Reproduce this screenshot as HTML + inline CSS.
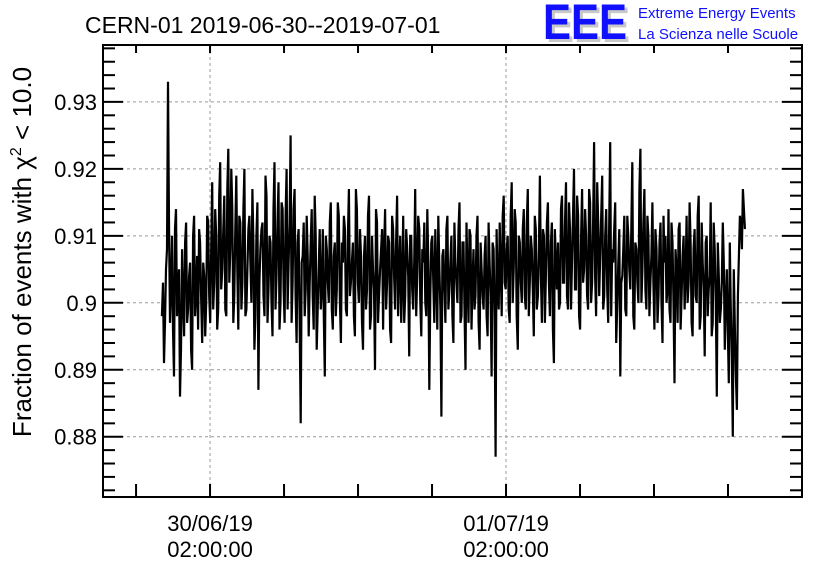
<!DOCTYPE html>
<html><head><meta charset="utf-8"><style>
body{margin:0;background:#fff;}
svg{display:block;font-family:"Liberation Sans",sans-serif;}
</style></head><body>
<svg id="c" width="836" height="572" viewBox="0 0 836 572">
<text x="85" y="33" font-size="23">CERN-01 2019-06-30--2019-07-01</text>
<g>
<text x="546" y="42" font-size="50" fill="#c8c8c8" font-weight="bold" textLength="84" lengthAdjust="spacingAndGlyphs">EEE</text>
<text x="543" y="39" font-size="50" fill="#1010ff" font-weight="bold" textLength="84" lengthAdjust="spacingAndGlyphs">EEE</text>
<text x="638" y="18" font-size="15" fill="#1010ff">Extreme Energy Events</text>
<text x="638" y="39" font-size="15" fill="#1010ff">La Scienza nelle Scuole</text>
</g>
<text transform="translate(31,252) rotate(-90)" text-anchor="middle" font-size="26">Fraction of events with χ<tspan dy="-10" font-size="16">2</tspan><tspan dy="10"> &lt; 10.0</tspan></text>
<g id="grid"></g><g id="ticks"></g><g id="series"></g>
<rect x="103" y="45" width="699" height="452" fill="none" stroke="#000" stroke-width="2"/>
</svg>
<script>
const yTicks=[0.88,0.89,0.90,0.91,0.92,0.93];
const yTickLabels=["0.88","0.89","0.9","0.91","0.92","0.93"];
const xLabelHours=[2,26];
const xLabelDates=["30/06/19","01/07/19"];
const xLabelTimes=["02:00:00","02:00:00"];
const startHour=-1.9, stepHour=0.0815;
const fracMilliA=[
898,891,905,933,897,910,889,914,902,886,
908,895,912,899,906,890,913,901,896,909,
894,904,900,912,897,918,903,910,899,921,
905,916,898,923,908,914,901,919,896,912,
903,920,899,911,906,917,893,910,887,908,
912,898,916,902,909,895,921,904,918,900,
914,897,920,906,925,903,917,894,911,882,
907,898,913,895,909,901,916,893,905,899,
911,889,908,900,915,896,909,902,913,894,
906,911,898,917,903,909,895,914,900,907,
893,910,902,916,898,905,890,912,901,908,
896,914,903,909,894,911,899,916,905,897,
913,901,908,892,910,899,917,904,911,895,
906,900,914,887,909,903,911,896,905,883,
908,897,913,902,910,894,906,900,915,898,
909,890,904,911,896,908,901,913,893,905,
899,910,895,906,889,908,877,903,912,898,
916,902,910,897,918,905,912,893,909,900,
914,899,917,903,908,895,911,901,919,897,
910,904,915,898,912,891,906,909,900,916,
903,918,899,911,906,920,902,913,896,917,
905,910,899,915,903,924,898,912,907,919,
901,914,897,924,908,911,894,906,889,904,
913,898,910,902,921,896,908,900,923,905,
917,899,910,903,915,896,908,901,912,894,
906,900,914,897,909,888,905,911,896,907,
899,913,903,909,895,911,900,916,898,906,
892,910,902,915,897,908,886,904,899,912,
893,905,888,899,880,896,884,907,912,917,911];
const fracMilliB=[
903,897,908,912,902,896,911,898,905,893,
900,909,897,904,893,910,898,907,911,901,
906,895,913,901,908,899,914,896,916,902,
911,899,917,903,920,897,911,905,913,899,
914,898,905,913,900,909,898,915,903,911,
901,919,897,910,900,914,899,912,896,915,
902,913,899,912,897,914,901,909,898,906,
912,902,907,903,914,896,910,899,911,902,
898,910,903,912,899,907,898,915,901,909,
913,899,910,901,906,898,917,903,911,897,
907,899,913,896,910,902,914,897,905,911,
908,899,910,896,913,904,909,898,910,903,
897,911,904,910,902,906,898,913,900,908,
912,898,906,901,910,897,904,913,899,907,
902,911,899,906,898,912,903,911,897,909,
899,912,897,910,903,899,910,897,909,901,
907,898,912,901,909,898,911,899,905,913,
903,908,899,913,900,914,898,910,903,911,
901,912,898,910,902,913,899,908,904,911,
897,912,903,909,896,911,902,899,914,903,
912,901,915,899,913,902,916,898,910,903,
914,901,917,900,912,904,918,901,913,899,
910,902,912,898,906,915,900,911,903,908,
899,913,905,911,898,909,903,917,900,912,
902,913,898,907,903,911,897,909,900,913,
910,902,899,912,900,908,897,912,901,910,
904,900,915,897,908,901,913,896,912,902,
909,898,904,895,912,900,909,897,903,906,
900,896,909,892,905,889,901,913,908,914];
const X0=103,X1=802,Y0=45,Y1=497;
const hMin=-6.68, hMax=50.0, vMin=0.8710, vMax=0.9385;
const xs=h=>X0+(h-hMin)/(hMax-hMin)*(X1-X0);
const ys=v=>Y1-(v-vMin)/(vMax-vMin)*(Y1-Y0);
const NS="http://www.w3.org/2000/svg";
function mk(tag,attrs,parent){const e=document.createElementNS(NS,tag);for(const k in attrs)e.setAttribute(k,attrs[k]);document.getElementById(parent).appendChild(e);return e;}
yTicks.forEach((v,i)=>{
 const y=ys(v);
 const g=mk('line',{x1:X0,x2:X1,y1:y,y2:y,stroke:'#999','stroke-dasharray':'3,3','stroke-width':1},'grid');
 
 
 const t=mk('text',{x:97,y:y+8,'text-anchor':'end','font-size':22},'ticks');
 t.textContent=yTickLabels[i];
 
 
});
for(let v=0.872;v<0.9385;v+=0.002){
 const major=Math.abs(v*100-Math.round(v*100))<1e-6;
 const y=ys(v), L=major?20:12;
 mk('line',{x1:X0,x2:X0+L,y1:y,y2:y,stroke:'#000','stroke-width':2},'ticks');
 mk('line',{x1:X1,x2:X1-L,y1:y,y2:y,stroke:'#000','stroke-width':2},'ticks');
}
for(let h=-4;h<hMax;h+=6){
 const x=xs(h);
 mk('line',{x1:x,x2:x,y1:Y1,y2:Y1-13,stroke:'#000','stroke-width':2},'ticks');
 mk('line',{x1:x,x2:x,y1:Y0,y2:Y0+8,stroke:'#000','stroke-width':2},'ticks');
}
xLabelHours.forEach((h,i)=>{
 const x=xs(h);
 const g=mk('line',{x1:x,x2:x,y1:Y0,y2:Y1,stroke:'#999','stroke-dasharray':'3,3','stroke-width':1},'grid');
 
 
 const t1=mk('text',{x:x,y:531,'text-anchor':'middle','font-size':22},'ticks');
 t1.textContent=xLabelDates[i];
 
 
 const t2=mk('text',{x:x,y:557,'text-anchor':'middle','font-size':22},'ticks');
 t2.textContent=xLabelTimes[i];
 
 
});
const vals=[];
fracMilliA.forEach((a,i)=>{vals.push(a);if(i<fracMilliB.length)vals.push(fracMilliB[i]);});
const pts=vals.map((m,i)=>xs(startHour+i*stepHour).toFixed(1)+','+ys(m/1000).toFixed(1)).join(' ');
const pl=mk('polyline',{points:pts,fill:'none',stroke:'#000','stroke-width':2.2,'stroke-linejoin':'miter'},'series');


</script>
</body></html>
